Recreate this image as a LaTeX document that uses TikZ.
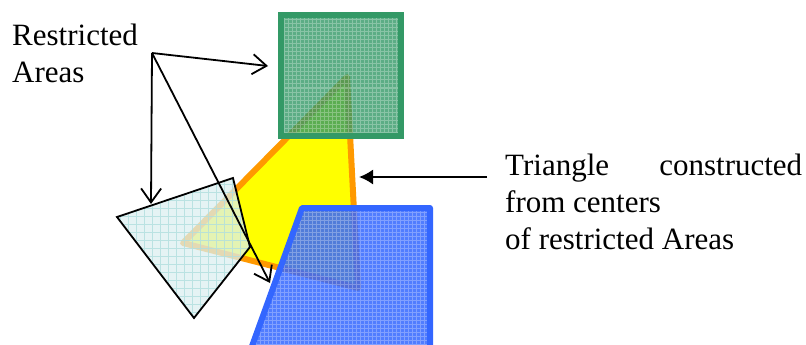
\documentclass[tikz,border=0pt]{standalone}
\usepackage{fontspec}
\setmainfont{Liberation Serif}
\usetikzlibrary{arrows.meta}
\definecolor{grn}{HTML}{339966}
\definecolor{blu}{HTML}{3366FF}
\definecolor{org}{HTML}{FF9900}
\definecolor{ylw}{HTML}{FFFF00}
\definecolor{lcy}{HTML}{DCEFF0}
\definecolor{lcyl}{HTML}{B0DEDE}
\begin{document}
\begin{tikzpicture}[x=1pt,y=-1pt,
  lbl/.style={font=\fontsize{31}{37}\selectfont, inner sep=0pt, anchor=base west},
  ptr/.style={line width=1.8pt, -{Straight Barb[length=14pt,width=20pt,line width=1.8pt]}},
  bigptr/.style={line width=1.8pt, -{Latex[length=14pt,width=15pt]}},
  gridw/.style={white, opacity=0.28, line width=1pt}]
\useasboundingbox (0,0) rectangle (806,345);

% triangle from centers
\coordinate (tA) at (347,77);
\coordinate (tB) at (183,243);
\coordinate (tC) at (358,288);
\fill[ylw] (tA) -- (tB) -- (tC) -- cycle;
\draw[org, line width=6pt, line join=round] (tA) -- (tB) -- (tC) -- cycle;

% green square
\coordinate (gA) at (281,15);
\coordinate (gB) at (401,136);
\begin{scope}
  \clip (gA) rectangle (gB);
  \fill[grn, opacity=0.8] (gA) rectangle (gB);
  \draw[gridw] (270,5) grid[step=4pt] (410,145);
\end{scope}
\draw[grn, line width=6pt] (gA) rectangle (gB);

% light cyan quadrilateral
\coordinate (q1) at (117,217);
\coordinate (q2) at (233,178);
\coordinate (q3) at (250,247);
\coordinate (q4) at (194,318);
\begin{scope}
  \clip (q1) -- (q2) -- (q3) -- (q4) -- cycle;
  \fill[lcy, opacity=0.75] (q1) -- (q2) -- (q3) -- (q4) -- cycle;
  \draw[lcyl, opacity=0.8, line width=0.8pt] (100,170) grid[step=8pt] (260,330);
\end{scope}
\draw[black, line width=1.8pt, line join=miter] (q1) -- (q2) -- (q3) -- (q4) -- cycle;

% blue trapezoid
\coordinate (b1) at (302,208);
\coordinate (b2) at (430,208);
\coordinate (b3) at (430,360);
\coordinate (b4) at (247,360);
\begin{scope}
  \clip (b1) -- (b2) -- (b3) -- (b4) -- cycle;
  \fill[blu, opacity=0.85] (b1) -- (b2) -- (b3) -- (b4) -- cycle;
  \draw[gridw] (240,200) grid[step=4pt] (440,365);
\end{scope}
\draw[blu, line width=6pt, line join=round] (b1) -- (b2) -- (b3) -- (b4) -- cycle;

% labels
\node[lbl] (r1) at (12,46) {Restricted};
\node[lbl] (r2) at (12,83) {Areas};
\node[lbl] (t1) at (505,175) {\hbox to 297pt{Triangle\hfill constructed}};
\node[lbl] (t2) at (505,212) {from centers};
\node[lbl] (t3) at (505,249) {of restricted Areas};

% pointers
\coordinate (src) at (152,53);
\coordinate (pg) at (268,66);
\coordinate (pq) at (151,204);
\coordinate (pb) at (270,283);
\draw[ptr] (src) -- (pg);
\draw[ptr] (src) -- (pq);
\draw[ptr] (src) -- (pb);

\coordinate (rs) at (487,177);
\coordinate (rt) at (359,177);
\draw[bigptr] (rs) -- (rt);
\end{tikzpicture}
\end{document}
